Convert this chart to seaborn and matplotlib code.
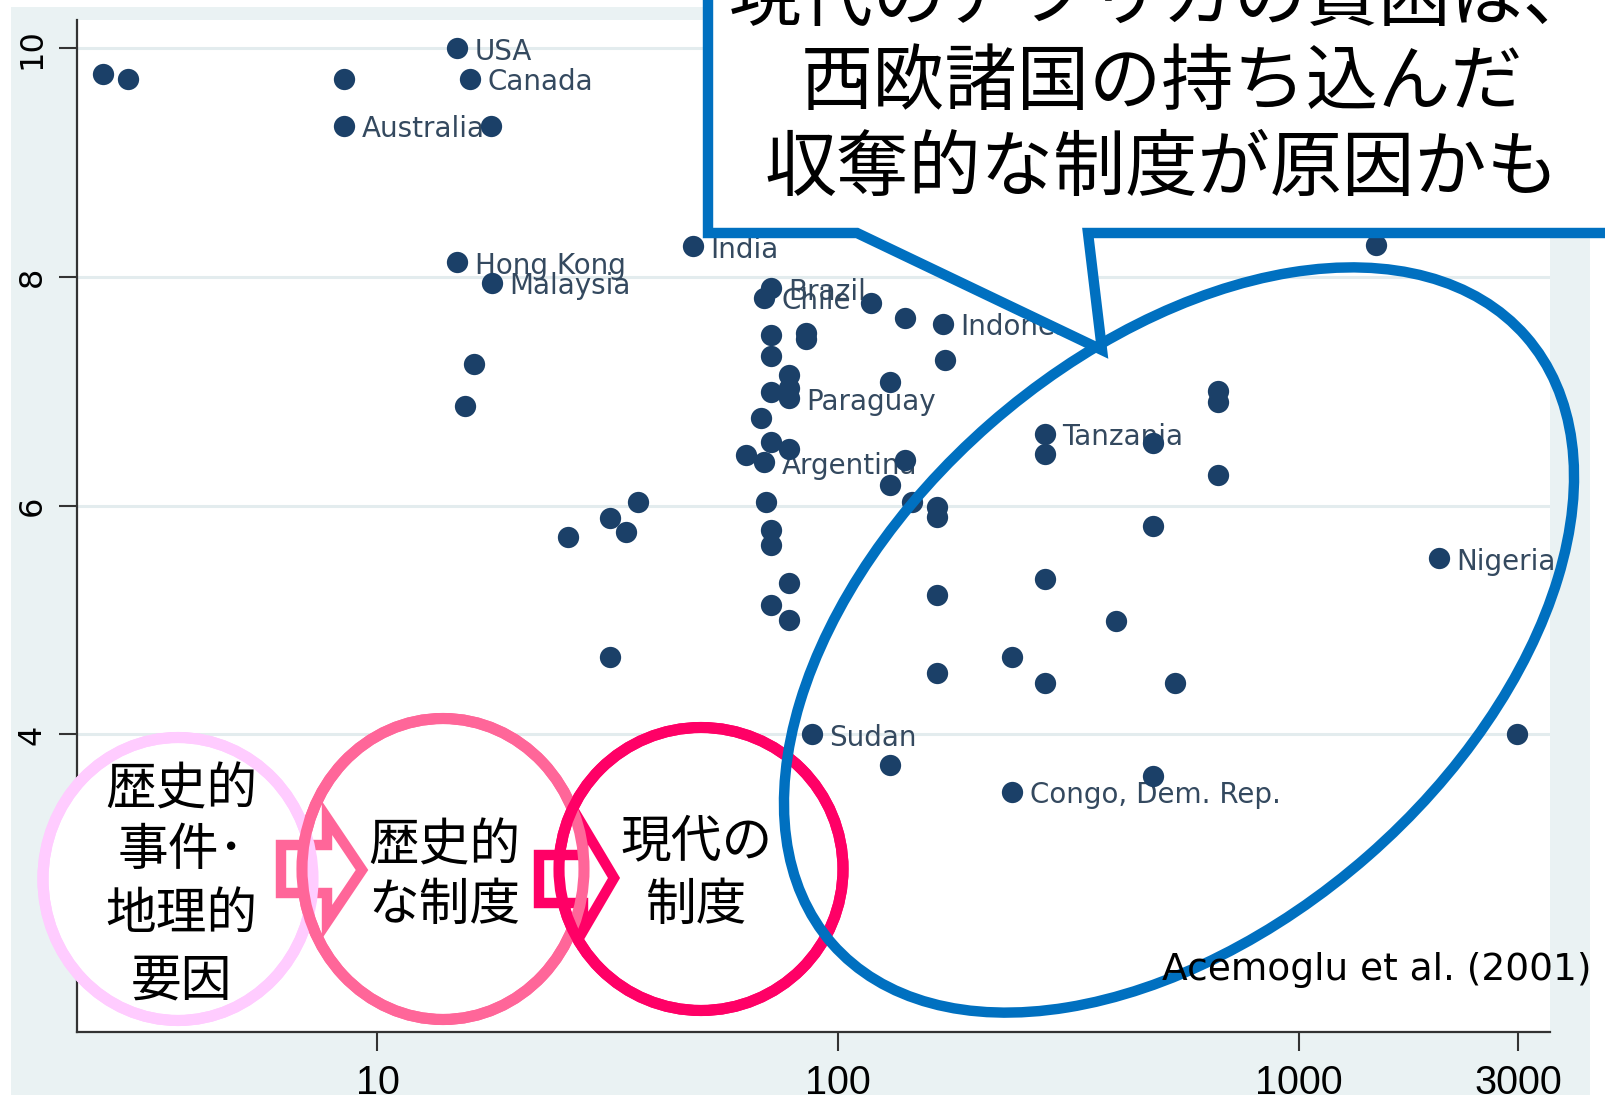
import matplotlib
matplotlib.use("Agg")
import matplotlib.pyplot as plt
import seaborn as sns
import pandas as pd
from matplotlib.patches import Ellipse, Polygon, Rectangle
from matplotlib.ticker import NullLocator

# settler mortality (log scale) vs log GDP per capita
mortality = [2.54, 2.87, 8.47, 8.47, 14.9, 15.9, 17.6, 14.9, 17.7, 16.2,
             15.5, 48.4, 71.5, 69.0, 118, 139.6, 169, 71.5, 85.2, 85.2,
             71.5, 78.4, 78.4, 71.5, 78.4, 68.1, 71.5, 78.4, 63.0, 69.2,
             139.6, 130, 69.8, 145, 163.7, 163.7, 71.5, 71.5, 36.8, 32.0,
             34.7, 25.9, 78.4, 71.5, 78.4, 163.7, 32.0, 163.7, 87.7, 130,
             239, 483, 281, 281, 483, 670, 670, 670, 1475, 483,
             281, 402, 239, 281, 540, 2018, 2980, 130, 171]
log_gdp = [9.77, 9.73, 9.73, 9.32, 10.0, 9.73, 9.32, 8.13, 7.95, 7.24,
           6.87, 8.27, 7.90, 7.82, 7.77, 7.64, 7.59, 7.49, 7.51, 7.46,
           7.31, 7.14, 7.03, 6.99, 6.94, 6.77, 6.56, 6.50, 6.44, 6.38,
           6.40, 6.18, 6.03, 6.03, 5.99, 5.90, 5.79, 5.66, 6.03, 5.89,
           5.77, 5.73, 5.32, 5.13, 5.00, 5.22, 4.68, 4.54, 4.00, 3.73,
           3.50, 3.64, 6.63, 6.45, 6.55, 7.00, 6.91, 6.27, 8.28, 5.82,
           5.36, 4.99, 4.68, 4.45, 4.45, 5.54, 4.00, 7.08, 7.27]
country = ["", "", "", "Australia", "USA", "Canada", "", "Hong Kong", "Malaysia", "",
           "", "India", "Brazil", "Chile", "", "", "Indonesia", "", "", "",
           "", "", "", "", "Paraguay", "", "", "", "", "Argentina",
           "", "", "", "", "", "", "", "", "", "",
           "", "", "", "", "", "", "", "", "Sudan", "",
           "Congo, Dem. Rep.", "", "Tanzania", "", "", "", "", "", "", "",
           "", "", "", "", "", "Nigeria", "", "", ""]

x_ticks = [10, 100, 1000, 3000]
y_ticks = [4, 6, 8, 10]

bubble_lines = ["現代のアフリカの貧困は、", "西欧諸国の持ち込んだ", "収奪的な制度が原因かも"]
circle_texts = [["歴史的", "事件･", "地理的", "要因"], ["歴史的", "な制度"], ["現代の", "制度"]]
citation = "Acemoglu et al. (2001)"

df = pd.DataFrame({"mortality": mortality, "log_gdp": log_gdp, "country": country})

W, H = 1606, 1099
fig = plt.figure(figsize=(W / 100, H / 100), dpi=100)
fig.set_facecolor("white")

# Stata-like grey graph region behind everything
bg = fig.add_axes([0, 0, 1, 1], zorder=0, label="bg")
bg.set_xlim(0, W)
bg.set_ylim(H, 0)
bg.axis("off")
bg.add_patch(Rectangle((11, 7), 1579, 1088, color="#EAF2F3", lw=0))

ax = fig.add_axes([77 / W, (H - 1032) / H, (1550 - 77) / W, (1032 - 20) / H], zorder=1)
ax.set_facecolor("white")

for i, row in df.iterrows():
    if row["country"]:
        ax.annotate(row["country"], (row["mortality"], row["log_gdp"]),
                    xytext=(12.5, -2.5), textcoords="offset points",
                    ha="left", va="center", fontsize=20, color="#34495f", zorder=2)

sns.scatterplot(data=df, x="mortality", y="log_gdp", ax=ax, color="#1B4068",
                s=235, linewidth=0, zorder=3, legend=False)

ax.set_xscale("log")
ax.set_xlim(2.226, 3516)
ax.set_ylim(1.399, 10.246)
ax.set_xticks(x_ticks)
ax.set_xticklabels([str(t) for t in x_ticks], fontsize=28.5, family="Liberation Sans")
ax.xaxis.set_minor_locator(NullLocator())
ax.set_yticks(y_ticks)
ax.set_yticklabels([str(t) for t in y_ticks], fontsize=23, rotation=90, va="center")
ax.set_xlabel("")
ax.set_ylabel("")
ax.tick_params(axis="x", length=14, width=1.5, color="#333333", pad=9)
ax.tick_params(axis="y", length=13, width=1.5, color="#333333", pad=8)
ax.yaxis.grid(True, color="#E3ECEE", lw=2.2)
ax.xaxis.grid(False)
ax.set_axisbelow(True)
for side in ["top", "right"]:
    ax.spines[side].set_visible(False)
for side in ["left", "bottom"]:
    ax.spines[side].set_color("#333333")
    ax.spines[side].set_linewidth(1.6)

# slide overlay drawn in pixel coordinates
ov = fig.add_axes([0, 0, 1, 1], zorder=2, label="overlay")
ov.set_xlim(0, W)
ov.set_ylim(H, 0)
ov.axis("off")
ov.patch.set_alpha(0)

jp = ["Noto Sans CJK JP", "DejaVu Sans"]

circles = [((178, 879), 270, 283, "#FFCCFF"),
           ((443, 869), 282, 301, "#FF6699"),
           ((701, 869), 284, 283, "#FF0066")]
for (c, w, h, col) in circles:
    ov.add_patch(Ellipse(c, w, h, facecolor="white", edgecolor=col, lw=8, zorder=1))

arrows = [([(281, 845), (327, 845), (327, 818), (362, 870), (327, 922), (327, 893), (281, 893)], "#FF6699"),
          ([(539, 855), (583, 855), (583, 826), (614, 878), (583, 931), (583, 903), (539, 903)], "#FF0066")]
for pts, col in arrows:
    ov.add_patch(Polygon(pts, closed=True, facecolor="white", edgecolor=col, lw=7.5,
                         joinstyle="miter", zorder=2))
for (c, w, h, col) in circles:
    ov.add_patch(Ellipse(c, w, h, facecolor="none", edgecolor=col, lw=8, zorder=3))

ov.add_patch(Ellipse((1179, 640), 922, 574, angle=-41.2, facecolor="none",
                     edgecolor="#0070C0", lw=7.5, zorder=4))

bubble = [(708, -60), (708, 233), (857, 233), (1102, 350), (1088, 233), (1700, 233), (1700, -60)]
ov.add_patch(Polygon(bubble, closed=True, facecolor="white", edgecolor="#0070C0", lw=7.5,
                     joinstyle="miter", zorder=5))

for txt, y in zip(bubble_lines, [-1, 83, 169]):
    ov.text(1162, y, txt, ha="center", va="center", fontsize=52, family=jp, color="black", zorder=6)

circle_pos = [(181, [791, 851, 915, 982]), (444, [847, 906]), (697, [842, 906])]
for lines, (cx, ys) in zip(circle_texts, circle_pos):
    for txt, y in zip(lines, ys):
        ov.text(cx, y, txt, ha="center", va="center", fontsize=36.5, family=jp,
                color="black", zorder=6)

ov.text(1592, 980, citation, ha="right", va="baseline", fontsize=27, color="black", zorder=6)

fig.savefig("out.png", dpi=100)
